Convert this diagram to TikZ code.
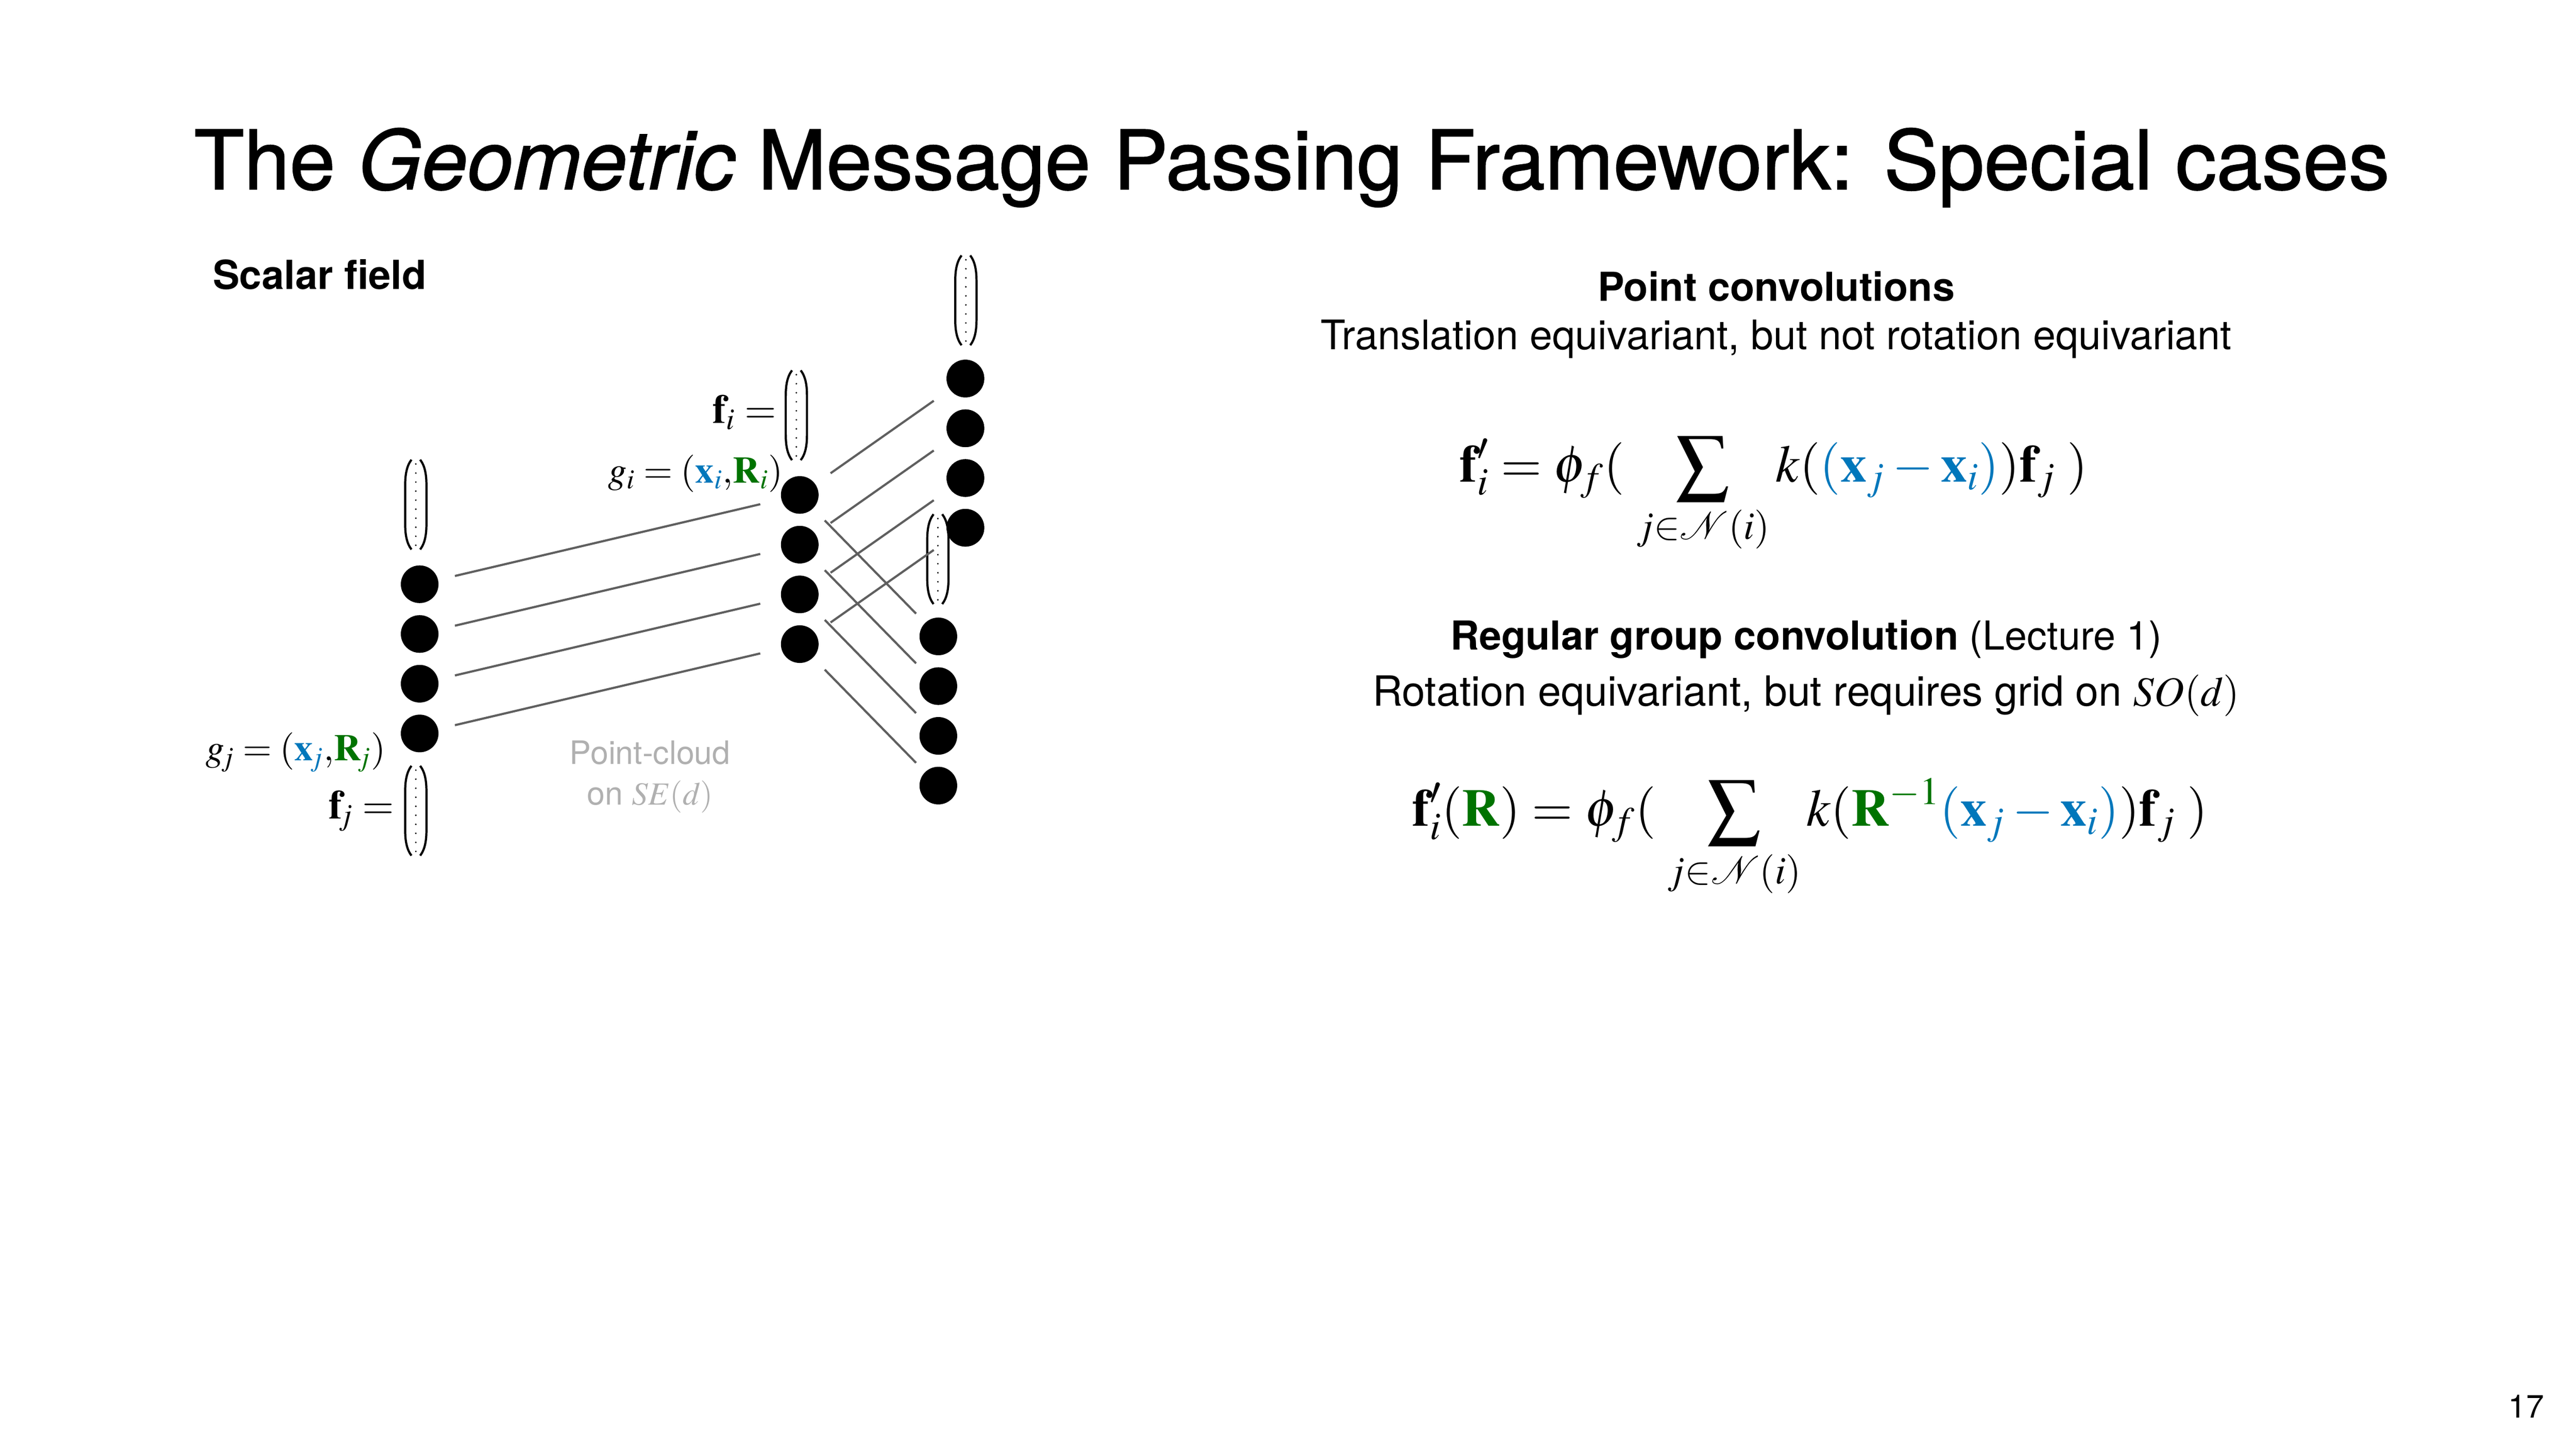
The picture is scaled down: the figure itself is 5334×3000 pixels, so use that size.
\documentclass[tikz,border=0pt]{standalone}
\usepackage{mathptmx}
\usepackage[no-math]{fontspec}
\setmainfont{TeX Gyre Heros}
\newfontfamily\titlefont[FakeBold=1.2]{TeX Gyre Heros}
\usetikzlibrary{calc}

\definecolor{xblue}{RGB}{0,119,187}
\definecolor{rgreen}{RGB}{0,115,0}
\definecolor{cloudgray}{RGB}{176,176,176}
\definecolor{linkgray}{RGB}{95,95,95}

% column vector with dots
\tikzset{
  vecpic/.pic={
    \draw[line width=0.45mm] (-9,-93) .. controls (-19,-80) and (-22,-62) .. (-22,-40) -- (-22,40) .. controls (-22,62) and (-19,80) .. (-9,93);
    \draw[line width=0.45mm] (9,-93) .. controls (19,-80) and (22,-62) .. (22,-40) -- (22,40) .. controls (22,62) and (19,80) .. (9,93);
    \foreach \k in {0,...,9} \fill (0,-84+18.7*\k) circle (1.8);
  }
}

\begin{document}
\begin{tikzpicture}[x=0.1mm,y=-0.1mm,
    dot/.style={fill, circle, inner sep=0pt, outer sep=0pt, minimum size=7.8mm},
    link/.style={draw=linkgray, line width=0.45mm},
    lbl/.style={inner sep=0pt, font=\fontsize{24}{28}\selectfont},
    eqn/.style={inner sep=0pt, font=\fontsize{31}{37}\selectfont},
    txt/.style={inner sep=0pt, font=\fontsize{24}{28}\selectfont}]

    \useasboundingbox (0,0) rectangle (5334,3000);

    % Title
    \node[inner sep=0pt, anchor=base, font=\fontsize{48.3}{58}\titlefont] (title) at (2675, 392)
        {The \textit{Geometric} Message Passing Framework: Special cases};
    \node[txt, anchor=base west, font=\fontsize{23.6}{28}\selectfont\bfseries] (scalar) at (440, 599) {Scalar field};

    % Feature vectors
    \pic at (861, 1045) {vecpic};
    \pic at (861, 1679) {vecpic};
    \pic at (1649, 860) {vecpic};
    \pic at (2000, 622) {vecpic};
    \pic at (1942, 1158) {vecpic};

    % Points
    \foreach \k in {1,...,4} {
        \node[dot] (l\k) at (869, 1107+103*\k) {};
        \node[dot] (m\k) at (1656, 922+103*\k) {};
        \node[dot] (t\k) at (1999, 681+103*\k) {};
        \node[dot] (b\k) at (1943, 1215+103*\k) {};
    }

    % Messages
    \foreach \k in {1,...,4} {
        \draw[link, shorten <=3.6mm, shorten >=4.5mm] (l\k) -- (m\k);
        \draw[link, shorten <=3.9mm, shorten >=4.1mm] (m\k) -- (t\k);
        \draw[link, shorten <=3.5mm, shorten >=2.7mm] (m\k) -- (b\k);
    }
    \foreach \k in {1,...,4} {
        \node[dot] at (t\k) {};
    }

    % Labels
    \node[lbl, anchor=base east] (fi) at (1608, 876) {$\mathbf{f}_i =$};
    \node[lbl, anchor=base east, font=\fontsize{22}{27}\selectfont] (gi) at (1622, 1000)
        {$g_i = (\textcolor{xblue}{\mathbf{x}_i}{,}\textcolor{rgreen}{\mathbf{R}_i})$};
    \node[lbl, anchor=base west, font=\fontsize{22}{27}\selectfont] (gj) at (425, 1575)
        {$g_{\!j} = (\textcolor{xblue}{\mathbf{x}_{\!j}}{,}\textcolor{rgreen}{\mathbf{R}_{\!j}})$};
    \node[lbl, anchor=base east] (fj) at (817, 1696) {$\mathbf{f}_{\!j} =$};
    \node[inner sep=0pt, anchor=base, align=center, text=cloudgray, font=\fontsize{19}{23.9}\selectfont] (cloud) at (1346, 1667)
        {Point-cloud\\on $SE(d)$};

    % Point convolutions
    \node[txt, anchor=base, font=\fontsize{23.5}{28}\selectfont\bfseries] (pc) at (3678, 624) {Point convolutions};
    \node[txt, anchor=base] (pcsub) at (3678, 724) {Translation equivariant, but not rotation equivariant};
    \node[eqn, anchor=base] (eq1) at (3673, 998)
        {$\displaystyle \mathbf{f}'_i = \phi_f(\;\sum_{j\in\mathcal{N}(i)} k(\textcolor{xblue}{(\mathbf{x}_j-\mathbf{x}_i)})\mathbf{f}_j\;)$};

    % Regular group convolution
    \node[txt, anchor=base, font=\fontsize{23.5}{28}\selectfont] (gc) at (3740, 1346) {\textbf{Regular group convolution} (Lecture 1)};
    \node[txt, anchor=base, font=\fontsize{24.5}{29}\selectfont] (gcsub) at (3740, 1462) {Rotation equivariant, but requires grid on $SO(d)$};
    \node[eqn, anchor=base] (eq2) at (3748, 1711)
        {$\displaystyle \mathbf{f}'_i(\textcolor{rgreen}{\mathbf{R}}) = \phi_f(\;\sum_{j\in\mathcal{N}(i)} k(\textcolor{rgreen}{\mathbf{R}^{-1}}\textcolor{xblue}{(\mathbf{x}_j-\mathbf{x}_i)})\mathbf{f}_j\;)$};

    % Page number
    \node[inner sep=0pt, anchor=base, font=\fontsize{19}{23}\selectfont] (page) at (5231, 2936) {17};
\end{tikzpicture}
\end{document}
